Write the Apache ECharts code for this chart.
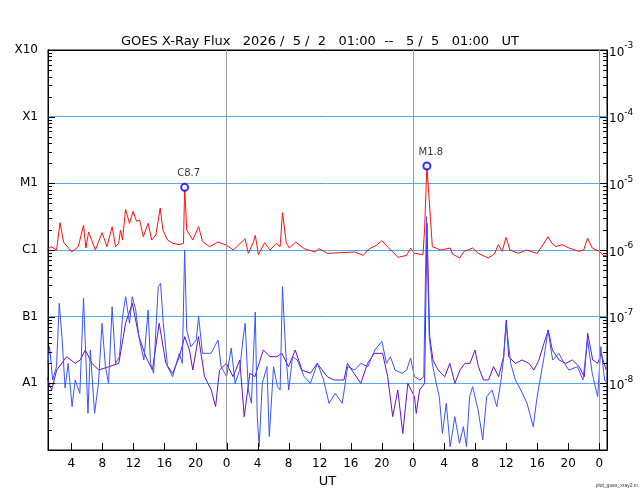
<!DOCTYPE html>
<html lang="en">
<head>
<meta charset="utf-8">
<title>GOES X-Ray Flux</title>
<script src="https://cdn.jsdelivr.net/npm/echarts@6/dist/echarts.min.js"></script>
<style>
  html, body { margin: 0; padding: 0; background: #fff; }
  #chart { width: 640px; height: 500px; }
</style>
</head>
<body>
<div id="chart"></div>
<script>
// time = hours since 5/2 00:00 UT, value = log10 of flux (W/m^2)
const longFlux = [[0.8,-6.0],[1.4,-5.95],[2.1,-6.0],[2.55,-5.59],[3.0,-5.88],[4.06,-6.03],[4.9,-5.95],[5.58,-5.63],[5.88,-5.97],[6.23,-5.73],[7.1,-6.0],[7.96,-5.74],[8.6,-5.95],[9.26,-5.65],[9.7,-5.95],[10.1,-5.9],[10.34,-5.7],[10.6,-5.85],[10.99,-5.39],[11.5,-5.6],[11.97,-5.42],[12.4,-5.57],[12.8,-5.55],[13.28,-5.8],[13.9,-5.6],[14.37,-5.85],[14.9,-5.77],[15.45,-5.37],[15.8,-5.7],[16.4,-5.85],[17.05,-5.9],[17.9,-5.92],[18.45,-5.9],[18.6,-5.06],[18.87,-5.7],[19.65,-5.85],[20.4,-5.65],[20.9,-5.87],[21.8,-5.95],[22.9,-5.88],[24.0,-5.93],[24.87,-6.0],[25.95,-5.88],[26.38,-5.83],[26.8,-6.05],[27.46,-5.88],[27.7,-5.78],[28.1,-6.07],[28.9,-5.89],[29.6,-6.0],[30.4,-5.9],[30.9,-5.95],[31.2,-5.44],[31.7,-5.9],[32.1,-5.97],[32.9,-5.88],[34.0,-5.98],[35.4,-6.03],[35.9,-5.98],[37.0,-6.05],[38.7,-6.04],[40.5,-6.03],[41.6,-6.08],[42.4,-5.98],[43.3,-5.93],[44.0,-5.86],[44.8,-5.96],[46.1,-6.11],[47.2,-6.08],[47.7,-5.97],[48.2,-6.05],[49.3,-6.07],[49.5,-5.7],[49.8,-4.74],[50.1,-5.25],[50.5,-5.95],[51.6,-6.0],[52.8,-5.97],[53.1,-6.06],[54.0,-6.12],[54.6,-6.02],[55.7,-5.97],[56.4,-6.05],[57.7,-6.12],[58.5,-6.06],[59.0,-5.92],[59.5,-6.02],[60.0,-5.81],[60.5,-6.0],[61.6,-6.05],[62.6,-6.0],[64.0,-6.05],[65.0,-5.88],[65.4,-5.8],[65.9,-5.9],[66.4,-5.95],[67.2,-5.92],[68.1,-5.97],[69.4,-6.02],[70.0,-6.0],[70.5,-5.82],[71.1,-5.97],[72.0,-6.02],[72.6,-6.09],[73.0,-6.07]];

const shortPrimary = [[0.97,-7.7],[1.2,-7.45],[1.6,-7.95],[2.1,-7.75],[2.45,-6.8],[2.8,-7.3],[3.2,-8.07],[3.6,-7.7],[4.1,-8.35],[4.5,-7.95],[5.1,-8.15],[5.58,-6.72],[5.9,-7.7],[6.15,-8.45],[6.45,-7.5],[7.0,-8.45],[7.5,-8.0],[7.96,-7.1],[8.4,-7.75],[8.8,-8.0],[9.26,-6.85],[9.7,-7.7],[10.2,-7.6],[10.6,-7.0],[11.0,-6.7],[11.5,-7.1],[11.85,-6.7],[12.3,-6.9],[12.7,-7.3],[13.35,-7.65],[13.9,-6.9],[14.2,-7.7],[14.6,-7.85],[15.2,-6.55],[15.5,-6.5],[15.85,-7.1],[16.4,-7.75],[17.05,-7.9],[17.9,-7.55],[18.3,-7.7],[18.6,-6.0],[18.87,-7.2],[19.4,-7.45],[20.1,-7.35],[20.4,-7.0],[20.9,-7.55],[22.0,-7.55],[22.9,-7.35],[23.3,-7.75],[24.0,-7.9],[24.6,-7.47],[25.1,-8.0],[25.7,-7.8],[26.1,-7.35],[26.4,-7.1],[26.8,-8.1],[27.2,-8.3],[27.7,-6.93],[27.95,-8.5],[28.2,-8.95],[28.6,-8.0],[29.2,-7.75],[29.5,-8.8],[30.05,-7.75],[30.55,-8.05],[30.9,-8.1],[31.2,-6.55],[31.6,-7.5],[32.0,-8.1],[32.5,-7.6],[33.1,-7.65],[34.0,-7.9],[34.8,-8.0],[35.7,-7.7],[36.5,-7.95],[37.2,-8.3],[38.0,-8.15],[38.9,-8.3],[39.6,-7.75],[40.5,-7.8],[41.3,-7.7],[42.2,-7.75],[43.1,-7.5],[44.0,-7.37],[44.6,-7.7],[45.1,-7.6],[45.7,-7.8],[46.6,-7.85],[47.2,-7.8],[47.7,-7.62],[48.2,-7.9],[48.9,-7.95],[49.4,-7.9],[49.75,-5.5],[50.1,-7.3],[50.5,-7.7],[51.0,-8.0],[51.4,-8.2],[51.8,-8.75],[52.3,-8.3],[52.8,-8.95],[53.4,-8.5],[54.0,-8.9],[54.5,-8.65],[54.9,-8.95],[55.3,-8.2],[55.7,-8.05],[56.4,-8.4],[57.0,-8.85],[57.5,-8.2],[58.2,-8.1],[58.8,-8.35],[59.3,-8.0],[59.7,-7.6],[60.0,-7.1],[60.6,-7.7],[61.2,-7.95],[61.9,-8.1],[62.7,-8.3],[63.5,-8.65],[64.0,-8.2],[64.9,-7.6],[65.4,-7.2],[66.0,-7.65],[66.8,-7.55],[67.5,-7.7],[68.1,-7.8],[69.2,-7.75],[69.9,-7.95],[70.5,-7.35],[71.1,-7.85],[71.8,-8.2],[72.2,-7.45],[72.7,-7.95],[73.0,-8.0]];

const shortSecondary = [[0.82,-7.9],[1.47,-8.1],[2.12,-7.8],[3.41,-7.6],[4.5,-7.7],[5.15,-7.65],[5.8,-7.5],[6.66,-7.7],[7.53,-7.8],[8.83,-7.75],[10.12,-7.7],[10.99,-7.1],[11.86,-6.8],[12.72,-7.3],[13.59,-7.6],[14.45,-7.8],[15.32,-7.1],[16.18,-7.7],[17.05,-7.85],[17.92,-7.6],[18.61,-7.3],[19.22,-7.5],[19.65,-7.8],[20.38,-7.3],[21.16,-7.9],[22.03,-8.1],[22.59,-8.35],[22.9,-8.0],[23.1,-7.8],[23.97,-7.7],[24.84,-7.9],[25.7,-7.65],[26.27,-8.5],[27.0,-7.85],[27.65,-7.9],[28.73,-7.5],[29.6,-7.6],[30.47,-7.6],[31.12,-7.55],[31.98,-7.75],[32.85,-7.5],[33.71,-7.8],[34.8,-7.85],[35.66,-7.7],[36.96,-7.9],[37.83,-7.95],[39.12,-7.95],[39.56,-7.7],[40.42,-7.85],[41.29,-8.0],[42.16,-7.7],[43.02,-7.55],[44.1,-7.55],[44.75,-7.9],[45.4,-8.5],[46.05,-8.1],[46.7,-8.75],[47.35,-8.0],[48.2,-8.2],[48.43,-8.45],[48.86,-8.1],[49.51,-8.0],[49.81,-5.6],[50.16,-7.3],[50.59,-7.65],[51.24,-7.8],[52.11,-7.9],[52.76,-7.7],[53.41,-8.0],[54.06,-7.8],[54.7,-7.7],[55.36,-7.7],[56.0,-7.5],[56.44,-7.75],[57.09,-7.95],[57.74,-7.95],[58.39,-7.75],[59.04,-7.9],[59.68,-7.6],[60.03,-7.05],[60.33,-7.6],[61.2,-7.7],[62.07,-7.65],[62.93,-7.7],[63.58,-7.8],[64.23,-7.65],[64.88,-7.4],[65.44,-7.2],[65.96,-7.5],[66.83,-7.65],[67.69,-7.7],[68.56,-7.65],[69.42,-7.75],[70.07,-7.9],[70.51,-7.25],[71.16,-7.65],[71.81,-7.7],[72.24,-7.55],[72.89,-7.8]];

const flareTimes = [18.6, 49.8];
const flareLog = [-5.06, -4.74];
const flareLabels = ['C8.7', 'M1.8'];

const classLabels = { '-8': 'A1', '-7': 'B1', '-6': 'C1', '-5': 'M1', '-4': 'X1', '-3': 'X10' };
const hourTicks = [4, 8, 12, 16, 20, 24, 28, 32, 36, 40, 44, 48, 52, 56, 60, 64, 68, 72];
const dayLines = [24, 48, 72];
const decades = [-9, -8, -7, -6, -5, -4];
const minorSteps = [2, 3, 4, 5, 6, 7, 8, 9];

const toFlux = arr => arr.map(p => [p[0], Math.pow(10, p[1])]);
const expOf = v => Math.round(Math.log10(v));

const chart = echarts.init(document.getElementById('chart'));
const font = 'DejaVu Sans';

chart.setOption({
  animation: false,
  textStyle: { fontFamily: font },
  title: {
    text: 'GOES X-Ray Flux   2026 /  5 /  2   01:00  --   5 /  5   01:00   UT',
    left: 'center', top: 30,
    textStyle: { fontSize: 13, fontWeight: 'normal', color: '#000', fontFamily: font }
  },
  grid: { left: 48, right: 33, top: 50, bottom: 50, show: true, borderColor: '#000', borderWidth: 1 },
  xAxis: [{
    type: 'value', min: 1, max: 73,
    name: 'UT', nameLocation: 'middle', nameGap: 22,
    nameTextStyle: { fontSize: 13, color: '#000' },
    axisLine: { lineStyle: { color: '#000' } },
    axisTick: { show: false },
    axisLabel: { customValues: hourTicks, formatter: v => String(v % 24), color: '#000', fontSize: 12 },
    splitLine: { show: false }
  }, {
    type: 'value', min: 1, max: 73, position: 'top',
    axisLine: { show: true, lineStyle: { color: '#000' } },
    axisTick: { show: false }, axisLabel: { show: false }, splitLine: { show: false }
  }],
  yAxis: [{
    type: 'log', min: 1e-9, max: 1e-3, logBase: 10,
    axisLine: { show: true, lineStyle: { color: '#000' } },
    axisTick: { show: false },
    axisLabel: {
      color: '#000', fontSize: 12, margin: 10,
      formatter: v => classLabels[expOf(v)] || ''
    },
    splitLine: { show: true, lineStyle: { color: '#55aaee', width: 1 } }
  }, {
    type: 'log', min: 1e-9, max: 1e-3, logBase: 10, position: 'right',
    axisLine: { show: true, lineStyle: { color: '#000' } },
    axisTick: { show: false },
    axisLabel: {
      margin: 2,
      formatter: v => expOf(v) === -9 ? '' : '{b|10}{s|' + expOf(v) + '}',
      rich: {
        b: { fontSize: 12, color: '#000', verticalAlign: 'bottom' },
        s: { fontSize: 9, color: '#000', padding: [0, 0, 8, 0] }
      }
    },
    splitLine: { show: false }
  }],
  series: [{
    type: 'line', name: 'Short 2', data: toFlux(shortSecondary), showSymbol: false,
    lineStyle: { color: '#6a10cc', width: 1 }, z: 2,
    markLine: {
      silent: true, symbol: 'none', label: { show: false },
      lineStyle: { color: '#999', type: 'solid', width: 1 },
      data: dayLines.map(d => ({ xAxis: d }))
    }
  }, {
    type: 'line', name: 'Short', data: toFlux(shortPrimary), showSymbol: false,
    lineStyle: { color: '#3a55ff', width: 1 }, z: 3
  }, {
    type: 'line', name: 'Long', data: toFlux(longFlux), showSymbol: false,
    lineStyle: { color: '#ff1010', width: 1 }, z: 4
  }, {
    type: 'scatter', name: 'Flares', z: 5,
    data: flareTimes.map((t, i) => ({ value: [t, Math.pow(10, flareLog[i])], name: flareLabels[i] })),
    symbol: 'emptyCircle', symbolSize: 7,
    itemStyle: { color: '#0000ff', borderColor: '#0000ff', borderWidth: 1 },
    label: { show: true, position: 'top', formatter: p => p.name, color: '#000', fontSize: 10, distance: 4, offset: [4, 0] }
  }]
});

// axis tick marks (inside the frame), placed via the chart's own scales
const area = chart.getModel().getComponent('grid').coordinateSystem.getRect();
const tickStyle = { stroke: '#000', lineWidth: 1 };
const ticks = [];
decades.concat([-3]).forEach(d => {
  const y = Math.round(chart.convertToPixel({ yAxisIndex: 0 }, Math.pow(10, d))) + 0.5;
  ticks.push({ type: 'line', silent: true, shape: { x1: area.x, y1: y, x2: area.x + 7, y2: y }, style: tickStyle });
  ticks.push({ type: 'line', silent: true, shape: { x1: area.x + area.width - 7, y1: y, x2: area.x + area.width, y2: y }, style: tickStyle });
  if (d === -3) return;
  minorSteps.forEach(k => {
    const ym = Math.round(chart.convertToPixel({ yAxisIndex: 0 }, k * Math.pow(10, d))) + 0.5;
    ticks.push({ type: 'line', silent: true, shape: { x1: area.x, y1: ym, x2: area.x + 4, y2: ym }, style: tickStyle });
    ticks.push({ type: 'line', silent: true, shape: { x1: area.x + area.width - 4, y1: ym, x2: area.x + area.width, y2: ym }, style: tickStyle });
  });
});
hourTicks.forEach(h => {
  const x = Math.round(chart.convertToPixel({ xAxisIndex: 0 }, h)) + 0.5;
  const yb = area.y + area.height;
  ticks.push({ type: 'line', silent: true, shape: { x1: x, y1: yb - 7, x2: x, y2: yb }, style: tickStyle });
});
ticks.forEach(t => { t.z = 100; });
ticks.push({
  type: 'text', right: 2, bottom: 12,
  style: { text: 'plot_goes_xray2.m', fontSize: 5, fill: '#333' }
});
chart.setOption({ graphic: ticks });
</script>
</body>
</html>
